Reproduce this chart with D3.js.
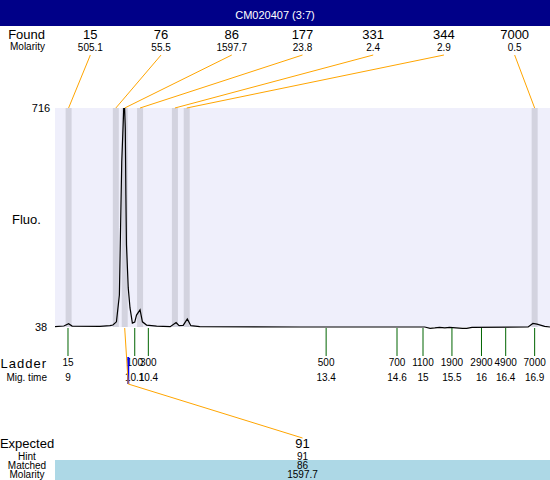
<!DOCTYPE html>
<html>
<head>
<meta charset="utf-8">
<script src="https://cdn.jsdelivr.net/npm/d3@7"></script>
<style>
body { margin: 0; background: #fff; }
text { font-family: "Liberation Sans", Arial, sans-serif; }
</style>
</head>
<body>
<div id="chart"></div>
<script>
var title = "CM020407 (3:7)";

// found peaks
var foundSize = [15, 76, 86, 177, 331, 344, 7000];
var foundMolarity = ["505.1", "55.5", "1597.7", "23.8", "2.4", "2.9", "0.5"];
var foundTime = [9.01, 9.81, 9.96, 10.22, 10.81, 11.01, 16.90];

// ladder
var ladderSize = [15, 100, 300, 500, 700, 1100, 1900, 2900, 4900, 7000];
var ladderTime = [9.0, 10.13, 10.36, 13.37, 14.57, 15.01, 15.5, 16.0, 16.41, 16.9];

// expected
var expectedSize = [91];
var expectedHint = [91];
var expectedMatched = [86];
var expectedMolarity = ["1597.7"];
var expectedTime = [10.02];

// electropherogram trace
var traceTime = [8.78, 8.93, 9.01, 9.07, 9.54, 9.71, 9.76, 9.82, 9.87, 9.89, 9.91, 9.94, 9.95, 9.97, 9.98, 9.99,
  10.02, 10.05, 10.09, 10.13, 10.16, 10.22, 10.26, 10.33, 10.50, 10.73, 10.83, 10.88, 10.95, 11.02, 11.08, 11.23,
  12.93, 15.04, 15.13, 15.21, 15.29, 15.38, 15.46, 15.68, 15.75, 15.84, 16.79, 16.87, 16.94, 17.07, 17.16];
var traceFluo = [39, 41, 48, 41, 40, 42, 44, 54, 137, 345, 549, 695, 760, 654, 447, 292,
  159, 97, 50, 53, 75, 91, 54, 44, 41, 39, 52, 42, 43, 63, 42, 39,
  38, 38, 34, 35, 37, 35, 37, 34, 34, 37, 38, 49, 47, 40, 38];

var fluoTicks = [38, 716];
var timeDomain = [8.78, 17.16];

var width = 550, height = 480;
var plot = {left: 55, right: 550, top: 108, bottom: 327};

var svg = d3.select("#chart")
  .append("svg")
    .attr("width", width)
    .attr("height", height);

var x = d3.scaleLinear()
  .domain(timeDomain)
  .range([plot.left, plot.right]);

var y = d3.scaleLinear()
  .domain(fluoTicks)
  .range([plot.bottom, plot.top]);

var col = d3.scaleBand()
  .domain(d3.range(foundSize.length))
  .range([plot.left, plot.right]);

var expCol = d3.scaleBand()
  .domain(d3.range(expectedSize.length))
  .range([plot.left, plot.right]);

var migFormat = d3.format(".3~r");

// title bar
svg.append("rect")
  .attr("x", 0).attr("y", 0)
  .attr("width", width).attr("height", 26)
  .attr("fill", "#000088");
svg.append("text")
  .attr("x", 275).attr("y", 18.5)
  .attr("text-anchor", "middle")
  .attr("fill", "#fff")
  .style("font-size", "11px")
  .text(title);

// found header
svg.append("text").attr("x", 45).attr("y", 39).attr("text-anchor", "end")
  .style("font-size", "13px").text("Found");
svg.append("text").attr("x", 45).attr("y", 50).attr("text-anchor", "end")
  .style("font-size", "10px").text("Molarity");

svg.selectAll(".found-size")
  .data(foundSize)
  .enter().append("text")
  .attr("class", "found-size")
  .attr("x", function(d, i) { return col(i) + col.bandwidth() / 2; })
  .attr("y", 39)
  .attr("text-anchor", "middle")
  .style("font-size", "13px")
  .text(function(d) { return d; });

svg.selectAll(".found-mol")
  .data(foundMolarity)
  .enter().append("text")
  .attr("class", "found-mol")
  .attr("x", function(d, i) { return col(i) + col.bandwidth() / 2; })
  .attr("y", 51)
  .attr("text-anchor", "middle")
  .style("font-size", "10px")
  .text(function(d) { return d; });

// plot background
svg.append("rect")
  .attr("x", plot.left).attr("y", plot.top)
  .attr("width", plot.right - plot.left)
  .attr("height", plot.bottom - plot.top)
  .attr("fill", "#EFEFFB");

// peak bands
svg.selectAll(".band")
  .data(foundTime)
  .enter().append("rect")
  .attr("class", "band")
  .attr("x", function(d) { return x(d) - 3; })
  .attr("y", plot.top)
  .attr("width", 6)
  .attr("height", plot.bottom - plot.top)
  .attr("fill", "#D3D3DF");

// leaders from header to peaks
svg.selectAll(".leader")
  .data(foundTime)
  .enter().append("line")
  .attr("class", "leader")
  .attr("x1", function(d, i) { return col(i) + col.bandwidth() / 2; })
  .attr("y1", 55)
  .attr("x2", function(d) { return x(d); })
  .attr("y2", plot.top)
  .attr("stroke", "orange")
  .attr("stroke-width", 1);

// y labels
svg.append("text").attr("x", 12).attr("y", 224)
  .style("font-size", "13px").text("Fluo.");
svg.selectAll(".ylab")
  .data(fluoTicks)
  .enter().append("text")
  .attr("class", "ylab")
  .attr("x", 41)
  .attr("y", function(d) { return y(d) + 4; })
  .attr("text-anchor", "middle")
  .style("font-size", "11px")
  .text(function(d) { return d; });

// trace
svg.append("defs").append("clipPath")
  .attr("id", "clip")
  .append("rect")
  .attr("x", plot.left).attr("y", plot.top)
  .attr("width", plot.right - plot.left)
  .attr("height", plot.bottom - plot.top + 6);

var line = d3.line()
  .x(function(d) { return x(traceTime[d]); })
  .y(function(d) { return y(traceFluo[d]); });

svg.append("path")
  .datum(d3.range(traceTime.length))
  .attr("clip-path", "url(#clip)")
  .attr("d", line)
  .attr("fill", "none")
  .attr("stroke", "#000")
  .attr("stroke-width", 1.2);

// ladder
svg.append("text").attr("x", 47).attr("y", 368).attr("text-anchor", "end")
  .style("font-size", "13px").style("letter-spacing", "1px").text("Ladder");
svg.append("text").attr("x", 47).attr("y", 381).attr("text-anchor", "end")
  .style("font-size", "10px").text("Mig. time");

svg.selectAll(".ltick")
  .data(ladderTime)
  .enter().append("line")
  .attr("class", "ltick")
  .attr("x1", function(d) { return x(d); })
  .attr("x2", function(d) { return x(d); })
  .attr("y1", plot.bottom + 1)
  .attr("y2", 356)
  .attr("stroke", "#006400")
  .attr("stroke-width", 1);

svg.selectAll(".lsize")
  .data(ladderSize)
  .enter().append("text")
  .attr("class", "lsize")
  .attr("x", function(d, i) { return x(ladderTime[i]); })
  .attr("y", 366)
  .attr("text-anchor", "middle")
  .style("font-size", "10px")
  .text(function(d) { return d; });

svg.selectAll(".ltime")
  .data(ladderTime)
  .enter().append("text")
  .attr("class", "ltime")
  .attr("x", function(d) { return x(d); })
  .attr("y", 381)
  .attr("text-anchor", "middle")
  .style("font-size", "10px")
  .text(function(d) { return migFormat(d); });

// expected
var matchIdx = expectedMatched.map(function(m) { return foundSize.indexOf(m); });

svg.selectAll(".etick")
  .data(expectedTime)
  .enter().append("line")
  .attr("class", "etick")
  .attr("x1", function(d) { return x(d); })
  .attr("x2", function(d) { return x(d); })
  .attr("y1", 357)
  .attr("y2", 384)
  .attr("stroke", "blue")
  .attr("stroke-width", 2);

svg.selectAll(".match")
  .data(expectedTime)
  .enter().append("polyline")
  .attr("class", "match")
  .attr("points", function(d, i) {
    var px = x(foundTime[matchIdx[i]]);
    var ex = expCol(i) + expCol.bandwidth() / 2;
    return [px, plot.bottom + 1, x(d), 384, ex, 438].join(" ");
  })
  .attr("fill", "none")
  .attr("stroke", "orange")
  .attr("stroke-width", 1);

svg.append("rect")
  .attr("x", plot.left).attr("y", 460)
  .attr("width", plot.right - plot.left).attr("height", 20)
  .attr("fill", "#ADD8E6");

svg.append("text").attr("x", 27).attr("y", 447.5).attr("text-anchor", "middle")
  .style("font-size", "13px").text("Expected");
var smallLabels = [["Hint", 459.5], ["Matched", 469], ["Molarity", 478]];
smallLabels.forEach(function(l) {
  svg.append("text").attr("x", 27).attr("y", l[1]).attr("text-anchor", "middle")
    .style("font-size", "10px").text(l[0]);
});

var rows = [[expectedSize, 447.5, "13px"], [expectedHint, 459.5, "10px"],
  [expectedMatched, 469, "10px"], [expectedMolarity, 478, "10px"]];
rows.forEach(function(r) {
  svg.selectAll(null)
    .data(r[0])
    .enter().append("text")
    .attr("x", function(d, i) { return expCol(i) + expCol.bandwidth() / 2; })
    .attr("y", r[1])
    .attr("text-anchor", "middle")
    .style("font-size", r[2])
    .text(function(d) { return d; });
});
</script>
</body>
</html>
